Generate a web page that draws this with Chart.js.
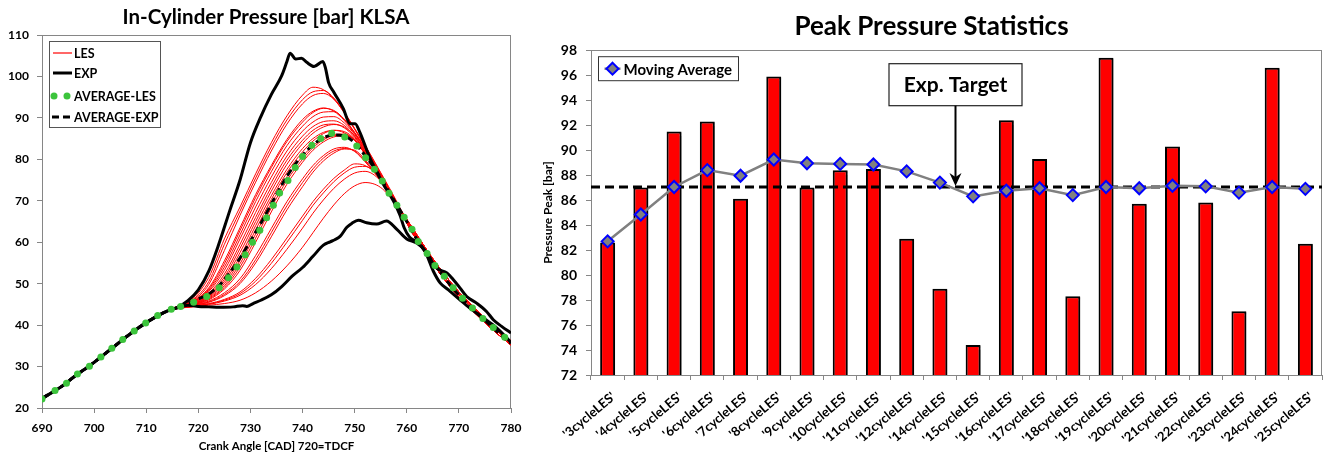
<!DOCTYPE html>
<html>
<head>
<meta charset="utf-8">
<script src="https://cdn.jsdelivr.net/npm/chart.js@4.4.0/dist/chart.umd.min.js"></script>
<style>
  body { margin: 0; background: #fff; }
  #left { position: absolute; left: 0; top: 0; }
  #right { position: absolute; left: 540px; top: 0; }
</style>
</head>
<body>
<canvas id="left" width="530" height="455"></canvas>
<canvas id="right" width="790" height="455"></canvas>
<script>
// ---------- left chart: in-cylinder pressure traces ----------
// compression stroke, common to every trace
const compAngle = [690, 692, 694, 696, 698, 700, 702, 704, 706, 708, 710, 712, 714];
const compPressure = [22.3, 23.8, 25.4, 27.4, 29.2, 31.0, 33.0, 35.0, 37.0, 38.9, 40.6, 42.1, 43.4];

// LES cycles, combustion part
const lesAngle = [716, 719, 722, 725, 728, 731, 734, 737, 740, 742, 744, 746, 748, 750, 752, 755, 758];
const les3  = [44.1, 44.7, 45.6, 47.4, 50.5, 55.8, 62.3, 68.8, 74.4, 77.7, 80.3, 82.0, 82.6, 82.0, 79.6, 74.8, 68.8];
const les4  = [44.2, 45.1, 46.9, 50.5, 56.5, 64.0, 71.2, 77.6, 82.6, 85.0, 86.5, 87.0, 86.4, 84.6, 81.2, 75.4, 69.1];
const les5  = [44.4, 45.6, 48.4, 54.0, 61.8, 69.8, 77.0, 83.3, 88.0, 90.3, 91.4, 91.5, 89.6, 86.4, 82.6, 76.2, 69.5];
const les6  = [44.4, 45.7, 48.7, 54.8, 62.8, 70.8, 78.0, 84.3, 89.0, 91.3, 92.3, 91.8, 89.7, 86.5, 82.8, 76.3, 69.6];
const les7  = [44.2, 45.0, 46.5, 49.5, 54.8, 62.0, 69.3, 75.8, 80.7, 83.3, 85.1, 86.0, 86.1, 84.7, 81.3, 75.4, 69.0];
const les8  = [44.5, 46.0, 49.8, 58.0, 66.5, 74.5, 82.0, 88.5, 93.4, 95.4, 95.9, 94.5, 91.2, 87.2, 83.0, 76.4, 69.7];
const les9  = [44.2, 45.0, 46.7, 50.0, 55.6, 63.0, 70.3, 76.8, 81.8, 84.4, 86.2, 87.0, 86.7, 84.9, 81.4, 75.5, 69.1];
const les10 = [44.3, 45.2, 47.1, 51.0, 57.5, 65.0, 72.3, 78.8, 83.8, 86.3, 87.8, 88.4, 87.8, 85.6, 81.9, 75.7, 69.2];
const les11 = [44.3, 45.3, 47.4, 51.6, 58.5, 66.0, 73.3, 79.8, 84.6, 87.0, 88.3, 88.5, 87.6, 85.3, 81.7, 75.6, 69.2];
const les12 = [44.1, 44.8, 45.8, 47.8, 51.2, 56.8, 63.3, 69.8, 75.3, 78.5, 80.9, 82.5, 82.9, 81.9, 79.4, 74.8, 68.8];
const les14 = [44.0, 44.6, 45.2, 46.2, 48.0, 51.3, 55.8, 61.0, 66.3, 69.8, 72.8, 75.4, 77.4, 78.9, 78.5, 75.4, 69.5];
const les15 = [44.0, 44.4, 44.8, 45.2, 46.0, 47.8, 50.6, 54.3, 58.8, 62.3, 65.8, 69.0, 71.7, 73.6, 74.4, 73.2, 69.0];
const les16 = [44.4, 45.8, 49.0, 55.5, 63.5, 71.5, 78.5, 84.8, 89.6, 91.6, 92.4, 91.6, 89.4, 86.2, 82.6, 76.2, 69.6];
const les17 = [44.3, 45.4, 47.7, 52.3, 59.5, 67.2, 74.4, 80.8, 85.6, 87.9, 89.1, 89.3, 88.2, 85.6, 82.0, 75.8, 69.3];
const les18 = [44.0, 44.5, 45.1, 46.0, 47.6, 50.6, 54.9, 60.0, 65.3, 68.9, 71.9, 74.6, 76.7, 78.1, 78.3, 75.2, 69.4];
const les19 = [44.6, 46.5, 51.5, 60.8, 68.5, 76.5, 84.0, 90.5, 95.5, 97.4, 96.8, 94.6, 91.3, 87.4, 83.4, 76.8, 70.0];
const les20 = [44.2, 44.9, 46.1, 48.7, 53.2, 60.0, 67.3, 74.0, 79.3, 82.2, 84.2, 85.4, 85.7, 84.8, 81.5, 75.4, 69.0];
const les21 = [44.3, 45.5, 48.1, 53.2, 60.8, 68.5, 75.7, 82.0, 86.8, 89.0, 90.2, 90.3, 88.8, 86.0, 82.3, 76.0, 69.4];
const les22 = [44.2, 44.9, 46.3, 49.1, 54.0, 61.0, 68.3, 74.9, 80.0, 82.8, 84.7, 85.7, 85.8, 84.6, 81.2, 75.3, 69.0];
const les23 = [44.0, 44.5, 45.0, 45.8, 47.2, 49.8, 53.6, 58.3, 63.4, 67.0, 70.2, 73.0, 75.2, 76.7, 77.1, 74.8, 69.3];
const les24 = [44.5, 46.2, 50.5, 59.5, 67.5, 75.5, 83.0, 89.5, 94.4, 96.3, 96.6, 94.8, 91.4, 87.4, 83.3, 76.6, 69.8];
const les25 = [44.1, 44.7, 45.5, 47.1, 50.0, 55.0, 61.3, 67.8, 73.4, 76.9, 79.6, 81.5, 82.5, 82.2, 79.9, 74.9, 68.8];
const lesTraces = [les3, les4, les5, les6, les7, les8, les9, les10, les11, les12, les14,
                   les15, les16, les17, les18, les19, les20, les21, les22, les23, les24, les25];

// expansion stroke, LES traces collapse into a narrow band
const tailAngle = [761, 764, 767, 770, 773, 776, 780];
const tailHigh = [63.6, 57.8, 52.6, 48.0, 44.1, 40.5, 36.2];
const tailMid  = [63.0, 57.2, 52.0, 47.4, 43.6, 40.0, 35.7];
const tailLow  = [62.4, 56.6, 51.4, 46.8, 43.0, 39.4, 35.2];

// experimental envelope
const expHighAngle = [716, 718, 720, 722, 724, 726, 728, 730, 732, 734, 736, 737, 737.6, 738.7, 739.8, 740.8, 742.2,
  743.9, 744.4, 745, 746, 747.8, 749.1, 750.1, 751, 752.9, 755.5, 757.5, 758.7, 759.5, 760.5, 762, 763.5,
  765.1, 766.4, 768, 770.2, 772.1, 774.7, 777.3, 779.2, 780];
const expHighPressure = [44.3, 45.9, 48.5, 53.0, 59.8, 67.5, 75.0, 84.0, 90.3, 95.6, 100.2, 103.6, 105.6, 104.2, 104.4, 103.4, 102.4,
  103.6, 102.0, 98.5, 96.2, 92.3, 88.6, 88.6, 86.5, 80.4, 74.0, 69.8, 66.5, 63.5, 61.3, 60.0, 57.8,
  53.0, 50.2, 48.5, 46.1, 44.1, 41.7, 39.3, 36.9, 35.8];
const expLowAngle = [716, 718, 720, 722, 724, 726.7, 728.5, 729.3, 730.5, 732, 734, 736, 738, 740, 742, 744, 745.3,
  746.2, 747.2, 748.5, 749.5, 750.7, 752.3, 754.2, 756.1, 758.1, 760, 761.9, 763.5, 765.7, 767.7, 768.9,
  770.2, 771.5, 773.4, 775.3, 776.6, 778.2, 780];
const expLowPressure = [44.2, 44.8, 44.5, 44.4, 44.3, 44.4, 44.7, 44.5, 45.2, 46.0, 47.3, 49.3, 51.8, 53.9, 56.6, 59.3, 60.1,
  60.6, 61.4, 63.6, 64.6, 65.3, 64.7, 64.4, 65.1, 63.1, 60.8, 59.8, 58.0, 53.8, 52.6, 51.0,
  49.0, 46.9, 45.3, 43.3, 41.3, 39.7, 38.1];

// averages
const avgExpAngle = [716, 718, 720, 722, 724, 726, 728, 730, 732, 734, 736, 738, 740, 742, 744, 746, 748,
  750, 752, 754, 756, 758, 760, 762, 764, 766, 768, 770, 772, 774, 776, 778, 780];
const avgExpPressure = [44.3, 45.2, 46.3, 47.5, 49.6, 52.6, 56.2, 60.3, 64.6, 69.2, 73.8, 77.8, 81.0, 83.5, 85.2, 85.9, 85.6,
  84.0, 80.9, 77.5, 73.4, 69.2, 65.0, 60.6, 57.0, 53.5, 50.2, 47.3, 44.7, 42.3, 40.0, 37.7, 35.6];
const avgLesAngle = [690, 692.5, 694.7, 696.8, 699.1, 701.3, 703.4, 705.5, 707.7, 709.9, 712.2, 714.8, 716.6, 719.1,
  721.6, 724.0, 725.8, 727.4, 729.0, 730.4, 731.8, 733.1, 734.4, 735.6, 737.2, 738.6, 740.0, 741.8, 743.5,
  745.6, 748.1, 750.4, 752.1, 753.8, 755.3, 756.6, 758.1, 759.5, 761.0, 762.2, 763.9, 765.4, 767.2, 768.9,
  770.7, 772.6, 774.6, 776.6, 778.8];
const avgLesPressure = [22.2, 24.2, 26.0, 28.2, 30.1, 32.3, 34.4, 36.5, 38.6, 40.5, 42.3, 43.8, 44.5, 45.5,
  46.9, 49.0, 51.4, 54.0, 57.0, 60.0, 62.9, 65.9, 68.9, 71.9, 74.9, 78.0, 80.7, 83.4, 85.0,
  86.3, 85.4, 83.2, 80.4, 77.6, 74.8, 71.8, 68.9, 66.0, 63.1, 60.2, 57.3, 54.4, 51.8, 49.0,
  46.5, 44.1, 41.6, 39.4, 37.1];

// ---------- right chart: peak pressure statistics ----------
const cycles = ["'3cycleLES'", "'4cycleLES'", "'5cycleLES'", "'6cycleLES'", "'7cycleLES'", "'8cycleLES'",
  "'9cycleLES'", "'10cycleLES'", "'11cycleLES'", "'12cycleLES'", "'14cycleLES'", "'15cycleLES'",
  "'16cycleLES'", "'17cycleLES'", "'18cycleLES'", "'19cycleLES'", "'20cycleLES'", "'21cycleLES'",
  "'22cycleLES'", "'23cycleLES'", "'24cycleLES'", "'25cycleLES'"];
const peakPressure = [82.6, 87.0, 91.5, 92.3, 86.1, 95.9, 87.0, 88.4, 88.5, 82.9, 78.9, 74.4,
  92.4, 89.3, 78.3, 97.4, 85.7, 90.3, 85.8, 77.1, 96.6, 82.5];
const movingAverage = [82.7, 84.85, 87.05, 88.4, 87.95, 89.25, 88.95, 88.9, 88.85, 88.3, 87.4, 86.3,
  86.75, 86.95, 86.4, 87.05, 86.95, 87.15, 87.1, 86.6, 87.05, 86.9];
const expTarget = 87.05;

const FONT = 'Lato, "Open Sans", sans-serif';
Chart.defaults.font.family = FONT;
Chart.defaults.font.weight = 'bold';
Chart.defaults.color = '#000';

function pts(xs, ys) {
  return xs.map((x, i) => ({ x: x, y: ys[i] }));
}

const frame = {
  id: 'frame',
  beforeDatasetsDraw(chart) {
    const a = chart.chartArea, ctx = chart.ctx;
    ctx.save();
    ctx.strokeStyle = '#868686';
    ctx.lineWidth = 1;
    ctx.strokeRect(Math.round(a.left) + 0.5, Math.round(a.top) + 0.5,
      Math.round(a.right - a.left) - 1, Math.round(a.bottom - a.top));
    ctx.restore();
  }
};

// ---------- left chart ----------
const leftSets = [];
lesTraces.forEach(v => {
  const peak = Math.max(...v);
  const tail = peak >= 90 ? tailLow : (peak >= 85 ? tailMid : tailHigh);
  leftSets.push({
    label: 'LES',
    data: pts(compAngle, compPressure).concat(pts(lesAngle, v), pts(tailAngle, tail)),
    borderColor: '#ff0000', borderWidth: 1, pointRadius: 0,
    cubicInterpolationMode: 'monotone', order: 4
  });
});
leftSets.push({
  label: 'EXP', data: pts(compAngle, compPressure).concat(pts(expHighAngle, expHighPressure)),
  borderColor: '#000', borderWidth: 3, pointRadius: 0, cubicInterpolationMode: 'monotone', order: 3
});
leftSets.push({
  label: 'EXP', data: pts(compAngle, compPressure).concat(pts(expLowAngle, expLowPressure)),
  borderColor: '#000', borderWidth: 3, pointRadius: 0, cubicInterpolationMode: 'monotone', order: 3
});
leftSets.push({
  label: 'AVERAGE-EXP', data: pts(compAngle, compPressure).concat(pts(avgExpAngle, avgExpPressure)),
  borderColor: '#000', borderWidth: 3, borderDash: [7, 4], pointRadius: 0,
  cubicInterpolationMode: 'monotone', order: 2
});
leftSets.push({
  label: 'AVERAGE-LES', data: pts(avgLesAngle, avgLesPressure), showLine: false,
  pointRadius: 3.5, pointBackgroundColor: '#3cc43c', pointBorderWidth: 0, order: 1
});

const leftDecor = {
  id: 'leftDecor',
  afterDraw(chart) {
    const ctx = chart.ctx;
    ctx.save();
    // title, centred like the original sheet
    ctx.fillStyle = '#000';
    ctx.font = 'bold 20.5px ' + FONT;
    ctx.textAlign = 'center';
    ctx.textBaseline = 'middle';
    ctx.fillText('In-Cylinder Pressure [bar] KLSA', 266, 17);
    ctx.textAlign = 'left';
    // legend
    ctx.fillStyle = '#fff';
    ctx.fillRect(50, 42, 110, 85);
    ctx.strokeStyle = '#555';
    ctx.lineWidth = 1;
    ctx.strokeRect(49.5, 41.5, 111, 86);
    ctx.font = 'bold 12.5px ' + FONT;
    ctx.fillStyle = '#000';
    const rows = [['LES', 53], ['EXP', 73], ['AVERAGE-LES', 96], ['AVERAGE-EXP', 117]];
    rows.forEach(r => ctx.fillText(r[0], 74, r[1] + 1));
    ctx.strokeStyle = '#ff0000'; ctx.lineWidth = 1.2;
    ctx.beginPath(); ctx.moveTo(53, 53); ctx.lineTo(72, 53); ctx.stroke();
    ctx.strokeStyle = '#000'; ctx.lineWidth = 3;
    ctx.beginPath(); ctx.moveTo(53, 73); ctx.lineTo(72, 73); ctx.stroke();
    ctx.setLineDash([7, 4]);
    ctx.beginPath(); ctx.moveTo(52, 117); ctx.lineTo(73, 117); ctx.stroke();
    ctx.setLineDash([]);
    ctx.fillStyle = '#3cc43c';
    [54, 67].forEach(x => { ctx.beginPath(); ctx.arc(x, 96, 3.5, 0, Math.PI * 2); ctx.fill(); });
    ctx.restore();
  }
};

new Chart(document.getElementById('left'), {
  type: 'line',
  data: { datasets: leftSets },
  options: {
    responsive: false, animation: false,
    layout: { padding: { left: 0, right: 19, top: 35, bottom: 0 } },
    plugins: { legend: { display: false }, tooltip: { enabled: false }, title: { display: false } },
    scales: {
      x: {
        type: 'linear', min: 690, max: 780,
        ticks: { stepSize: 10, font: { size: 12 }, padding: 8 },
        grid: { drawOnChartArea: false, tickLength: 5, color: '#868686' },
        border: { color: '#868686' },
        title: { display: true, text: 'Crank Angle [CAD] 720=TDCF', font: { size: 11.5, weight: 'bold' },
                 padding: { top: 0, bottom: 2 } },
        afterFit(s) { s.height = 47; }
      },
      y: {
        min: 20, max: 110,
        ticks: { stepSize: 10, font: { size: 12 }, padding: 8 },
        grid: { drawOnChartArea: false, tickLength: 5, color: '#868686' },
        border: { color: '#868686' },
        afterFit(s) { s.width = 42; }
      }
    }
  },
  plugins: [frame, leftDecor]
});

// ---------- right chart ----------
const rightDecor = {
  id: 'rightDecor',
  beforeDatasetDraw(chart, args) {
    const ctx = chart.ctx;
    if (args.meta.type === 'bar') {
      ctx.save();
      ctx.shadowColor = 'rgba(0,0,0,0.35)';
      ctx.shadowOffsetX = 2; ctx.shadowOffsetY = 1; ctx.shadowBlur = 1;
    }
    if (args.meta.type === 'line') {
      const a = chart.chartArea;
      const yy = chart.scales.y.getPixelForValue(expTarget);
      ctx.save();
      ctx.setLineDash([9, 5]); ctx.lineWidth = 3; ctx.strokeStyle = '#000';
      ctx.beginPath(); ctx.moveTo(a.left, yy); ctx.lineTo(a.right, yy); ctx.stroke();
      ctx.restore();
    }
  },
  afterDatasetDraw(chart, args) {
    if (args.meta.type === 'bar') chart.ctx.restore();
  },
  afterDraw(chart) {
    const ctx = chart.ctx, a = chart.chartArea;
    ctx.save();
    // legend
    const lx = a.left + 7.5, ly = a.top + 6.5;
    ctx.fillStyle = '#fff'; ctx.fillRect(lx, ly, 140, 24);
    ctx.strokeStyle = '#333'; ctx.lineWidth = 1; ctx.strokeRect(lx, ly, 140, 24);
    ctx.strokeStyle = '#808080'; ctx.lineWidth = 2.5;
    ctx.beginPath(); ctx.moveTo(lx + 6, ly + 12); ctx.lineTo(lx + 22, ly + 12); ctx.stroke();
    ctx.beginPath();
    ctx.moveTo(lx + 14, ly + 6); ctx.lineTo(lx + 20, ly + 12); ctx.lineTo(lx + 14, ly + 18); ctx.lineTo(lx + 8, ly + 12);
    ctx.closePath();
    ctx.fillStyle = '#808080'; ctx.fill();
    ctx.strokeStyle = '#0000ff'; ctx.lineWidth = 2; ctx.stroke();
    ctx.fillStyle = '#000'; ctx.font = 'bold 15px ' + FONT; ctx.textBaseline = 'middle';
    ctx.fillText('Moving Average', lx + 25, ly + 13);
    // Exp. Target call-out
    const ax = Math.round(chart.scales.x.getPixelForValue(10.44)) + 0.5;
    const ty = chart.scales.y.getPixelForValue(expTarget);
    const bw = 133, bh = 42, bt = a.top + 13.5;
    ctx.fillStyle = '#fff'; ctx.fillRect(ax - bw / 2, bt, bw, bh);
    ctx.strokeStyle = '#222'; ctx.lineWidth = 1.2; ctx.strokeRect(ax - bw / 2, bt, bw, bh);
    ctx.fillStyle = '#000'; ctx.font = 'bold 21px ' + FONT; ctx.textAlign = 'center';
    ctx.fillText('Exp. Target', ax, bt + bh / 2 + 1);
    ctx.strokeStyle = '#000'; ctx.lineWidth = 2;
    ctx.beginPath(); ctx.moveTo(ax, bt + bh); ctx.lineTo(ax, ty - 10); ctx.stroke();
    ctx.beginPath(); ctx.moveTo(ax - 6, ty - 14); ctx.lineTo(ax, ty - 1); ctx.lineTo(ax + 6, ty - 14);
    ctx.lineTo(ax, ty - 10); ctx.closePath(); ctx.fill();
    ctx.restore();
  }
};

new Chart(document.getElementById('right'), {
  type: 'bar',
  data: {
    labels: cycles,
    datasets: [
      { type: 'line', label: 'Moving Average', data: movingAverage, borderColor: '#808080', borderWidth: 2.5,
        pointStyle: 'rectRot', pointRadius: 6, pointBackgroundColor: '#808080', pointBorderColor: '#0000ff',
        pointBorderWidth: 2, tension: 0, order: 1 },
      { type: 'bar', label: 'Peak', data: peakPressure, backgroundColor: '#ff0000', borderColor: '#000',
        borderWidth: 2, borderSkipped: false, categoryPercentage: 1, barPercentage: 0.45, order: 2 }
    ]
  },
  options: {
    responsive: false, animation: false,
    layout: { padding: { left: 0, right: 7, top: 0, bottom: 0 } },
    plugins: {
      legend: { display: false }, tooltip: { enabled: false },
      title: { display: true, text: 'Peak Pressure Statistics', font: { size: 26, weight: 'bold' },
               color: '#000', padding: { top: 11, bottom: 8 } }
    },
    scales: {
      x: {
        ticks: { font: { size: 13 }, minRotation: 40, maxRotation: 40, autoSkip: false, padding: 9, labelOffset: 6 },
        grid: { offset: true, drawOnChartArea: false, tickLength: 5, color: '#868686' },
        border: { color: '#868686' },
        afterFit(s) { s.height = 80; }
      },
      y: {
        min: 72, max: 98,
        ticks: { stepSize: 2, font: { size: 14 }, padding: 9 },
        grid: { drawOnChartArea: false, tickLength: 5, color: '#868686' },
        border: { color: '#868686' },
        title: { display: true, text: 'Pressure Peak [bar]', font: { size: 12, weight: 'bold' },
                 padding: { top: 1, bottom: 0 } },
        afterFit(s) { s.width = 51; }
      }
    }
  },
  plugins: [frame, rightDecor]
});
</script>
</body>
</html>
